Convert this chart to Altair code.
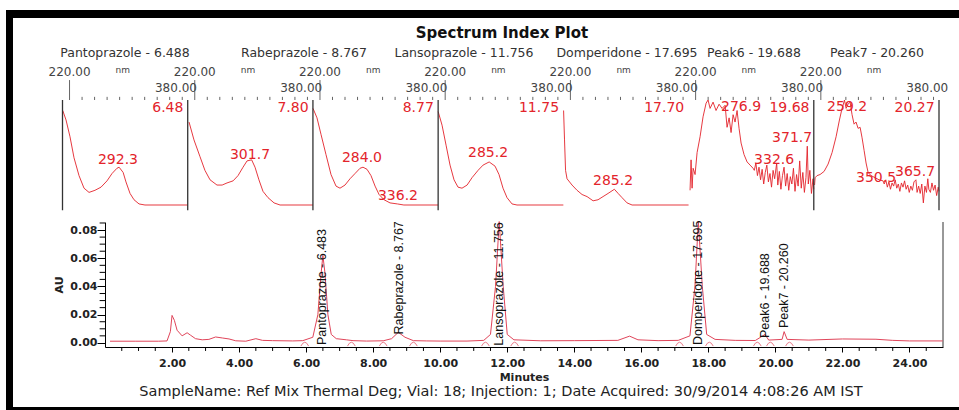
import altair as alt
import pandas as pd
import numpy as np

RED = "#e3242b"
TRACE = "#e0455a"
FONT = "DejaVu Sans"

# ---------------- chromatogram: time (min) vs absorbance (AU) ----------------
chrom_t = [0.15, 0.9, 1.6, 1.85, 1.95, 2.0, 2.07, 2.15, 2.3, 2.45, 2.55, 2.7, 2.9, 3.1,
           3.3, 3.5, 3.7, 3.9, 4.2, 4.5, 4.7, 5.0, 5.6, 5.9, 6.2, 6.35, 6.45, 6.5, 6.56,
           6.65, 6.75, 6.9, 7.2, 7.4, 7.8, 8.3, 8.55, 8.75, 8.95, 9.2, 9.6, 10.0, 10.8,
           11.3, 11.5, 11.65, 11.76, 11.88, 12.0, 12.2, 13.0, 14.0, 15.3, 15.65, 15.9,
           16.5, 17.1, 17.45, 17.6, 17.7, 17.82, 17.95, 18.2, 18.8, 19.4, 19.69, 19.8,
           20.2, 20.26, 20.35, 21.0, 22.0, 23.0, 23.5, 24.0, 24.99]
chrom_au = [0.0012, 0.0012, 0.0012, 0.0014, 0.008, 0.0195, 0.016, 0.009, 0.005, 0.0072,
            0.0055, 0.003, 0.0022, 0.0025, 0.0042, 0.0035, 0.0028, 0.0015, 0.0012, 0.003,
            0.0018, 0.0016, 0.0014, 0.0016, 0.004, 0.02, 0.05, 0.062, 0.05, 0.02, 0.006,
            0.003, 0.0022, 0.0016, 0.0013, 0.0015, 0.003, 0.0075, 0.004, 0.0016, 0.0014,
            0.0013, 0.0013, 0.0018, 0.006, 0.04, 0.086, 0.04, 0.006, 0.0022, 0.0015,
            0.0016, 0.0018, 0.0048, 0.0022, 0.0016, 0.0018, 0.005, 0.04, 0.086, 0.04,
            0.006, 0.0025, 0.0018, 0.0017, 0.006, 0.002, 0.0025, 0.008, 0.0025, 0.002,
            0.0028, 0.0026, 0.0018, 0.0014, 0.0014]

# named peaks
peak_names = ["Pantoprazole", "Rabeprazole", "Lansoprazole", "Domperidone", "Peak6", "Peak7"]
peak_rt_text = ["6.483", "8.767", "11.756", "17.695", "19.688", "20.260"]
peak_rt = [6.483, 8.767, 11.756, 17.695, 19.688, 20.260]
peak_label_au = [-0.0015, 0.006, -0.002, -0.0015, 0.0035, 0.0105]

# integration start / end marks (min)
integ_t = [5.96, 7.35, 8.3, 9.2, 11.35, 12.22, 17.14, 18.03, 19.46, 19.85, 20.42]

# header row of the spectrum index plot
header_text = ["Pantoprazole - 6.488", "Rabeprazole - 8.767", "Lansoprazole - 11.756",
               "Domperidone - 17.695", "Peak6 - 19.688", "Peak7 - 20.260"]

# ---------------- UV spectra, one panel per retention time ----------------
panel_rt = ["6.48", "7.80", "8.77", "11.75", "17.70", "19.68", "20.27"]

spec_nm = [
    [220.3, 224.5, 229.6, 234.7, 241.1, 247.5, 253.9, 261.5, 269.2, 276.9, 283.3, 289.6,
     292.3, 297.5, 301.1, 306.3, 311.4, 317.8, 325.4, 380],
    [221.7, 228, 235.7, 242, 248.5, 257.4, 264, 270.2, 278, 284.3, 290.7, 295.8, 301.7,
     306, 311, 316.2, 322.6, 330.3, 338, 380],
    [220.1, 225.2, 230.4, 236.7, 243.1, 249.5, 254.6, 261, 267.4, 273.8, 280.2, 284.0,
     289.1, 294.2, 299.4, 304.5, 310.9, 318.5, 328, 336.2, 380],
    [220, 225, 230.1, 235.2, 240.3, 245.4, 250.5, 257, 263.3, 271, 277.4, 285.2, 292.7,
     297.8, 302.9, 308, 314.4, 320.8, 380],
    [220.3, 221.5, 222.8, 224.7, 231.1, 237.5, 243.9, 250.3, 258, 264.3, 270.7, 277.1,
     285.2, 290, 295, 301.4, 307.8, 380],
    [221.9, 223.2, 224.5, 225.8, 228.3, 230.9, 234.7, 238.5, 242.4, 244.9, 247.5, 251.3,
     255.1, 259, 262.8, 266.7, 269.2, 271.8, 274.3, 276.9, 279.4, 282, 284.5, 287.1,
     290.9, 294.8, 298.6, 302.4,
     304, 306, 308, 310, 312, 314, 316, 318, 320, 322, 324, 326, 328, 330, 332.6, 334,
     336, 338, 340, 342, 344, 346, 348, 350, 352, 354, 356, 358, 360, 362, 364, 366,
     368, 370, 371.7, 373, 375, 377, 379, 380],
    [221.0, 221.7, 224.2, 228.0, 233.2, 238.3, 243.4, 248.5, 252.5, 255.5, 257.4, 259.2,
     261.3, 263.8, 266.4, 268.9, 271.5, 274.0, 276.6, 279.2, 281.7, 284.3, 286.8, 289.4,
     293.2, 298.3, 303.4, 308.5,
     310, 312, 314, 316, 318, 320, 322, 324, 326, 328, 330, 332, 334, 336, 338, 340, 342,
     344, 346, 348, 350.5, 352, 354, 356, 358, 360, 362, 364, 365.7, 367, 369, 371, 373,
     375, 377, 379, 380],
]
spec_rel = [
    [0.90, 0.81, 0.65, 0.45, 0.28, 0.16, 0.12, 0.14, 0.17, 0.23, 0.30, 0.35, 0.36, 0.31,
     0.22, 0.11, 0.05, 0.01, 0.0, 0.0],
    [0.79, 0.62, 0.46, 0.33, 0.24, 0.19, 0.19, 0.21, 0.23, 0.28, 0.36, 0.42, 0.43, 0.36,
     0.24, 0.13, 0.07, 0.02, 0.0, 0.0],
    [0.92, 0.83, 0.67, 0.48, 0.29, 0.18, 0.16, 0.19, 0.25, 0.30, 0.35, 0.36, 0.34, 0.28,
     0.18, 0.10, 0.05, 0.02, 0.01, 0.0, 0.0],
    [0.89, 0.76, 0.57, 0.38, 0.24, 0.17, 0.16, 0.19, 0.26, 0.33, 0.38, 0.41, 0.37, 0.29,
     0.16, 0.07, 0.01, 0.0, 0.0],
    [0.90, 0.62, 0.33, 0.25, 0.19, 0.14, 0.10, 0.08, 0.04, 0.05, 0.08, 0.11, 0.15, 0.11,
     0.07, 0.02, 0.0, 0.0],
    [0.14, 0.43, 0.16, 0.35, 0.29, 0.50, 0.65, 0.84, 0.97, 1.0, 0.92, 0.98, 0.90, 0.96,
     0.92, 0.95, 0.74, 0.83, 0.69, 0.86, 0.79, 0.90, 0.73, 0.59, 0.48, 0.41, 0.38, 0.35,
     0.33, 0.40, 0.28, 0.36, 0.24, 0.34, 0.20, 0.31, 0.38, 0.22, 0.30, 0.17, 0.33, 0.25,
     0.40, 0.19, 0.32, 0.15, 0.28, 0.36, 0.18, 0.30, 0.14, 0.27, 0.20, 0.35, 0.13, 0.29,
     0.18, 0.42, 0.16, 0.31, 0.12, 0.26, 0.56, 0.20, 0.33, 0.11, 0.25, 0.15],
    [0.19, 0.26, 0.28, 0.29, 0.32, 0.39, 0.50, 0.65, 0.80, 0.90, 0.95, 1.0, 0.92, 0.96,
     0.98, 0.86, 0.77, 0.79, 0.73, 0.74, 0.64, 0.52, 0.40, 0.31, 0.28, 0.26, 0.24, 0.23,
     0.20, 0.24, 0.17, 0.22, 0.15, 0.21, 0.18, 0.24, 0.16, 0.20, 0.13, 0.21, 0.17, 0.23,
     0.15, 0.19, 0.12, 0.18, 0.14, 0.22, 0.24, 0.12, 0.18, 0.11, 0.20, 0.02, 0.18, 0.12,
     0.25, 0.15, 0.12, 0.21, 0.14, 0.19, 0.09, 0.17, 0.13],
]

# labelled wavelengths: panel, wavelength, label anchor (nm, relative absorbance)
ann_panel = [0, 1, 2, 2, 3, 4, 5, 5, 5, 6, 6, 6]
ann_nm = [292.3, 301.7, 284.0, 336.2, 285.2, 285.2, 276.9, 371.7, 332.6, 259.2, 350.5, 365.7]
ann_at_nm = [290.9, 299.6, 282.7, 328.7, 283.8, 283.5, 287.1, 352.3, 329.3, 262.6, 299.6, 349.4]
ann_at_rel = [0.43, 0.48, 0.45, 0.09, 0.50, 0.23, 0.93, 0.64, 0.43, 0.93, 0.26, 0.31]

# ---------------- tables ----------------
NM_MIN, NM_MAX = 220.0, 380.0
SPAN = NM_MAX - NM_MIN
N_PANEL = len(panel_rt)

spec_rows = []
for p, (nms, rels) in enumerate(zip(spec_nm, spec_rel)):
    for k, (w, r) in enumerate(zip(nms, rels)):
        spec_rows.append({"panel": p, "k": k, "u": p * SPAN + w - NM_MIN, "rel": r})
spec_df = pd.DataFrame(spec_rows)

bound_df = pd.DataFrame({"u": [i * SPAN for i in (0, 1, 2, 3, 6, 7)], "rel": -0.05, "rel2": 1.0})

rt_df = pd.DataFrame({"u": [(i + 1) * SPAN - 5.5 for i in range(N_PANEL)],
                      "rel": 0.925, "label": panel_rt})

ann_df = pd.DataFrame({"u": [p * SPAN + a - NM_MIN for p, a in zip(ann_panel, ann_at_nm)],
                       "rel": ann_at_rel, "label": [f"{v:.1f}" for v in ann_nm]})

# wavelength scale drawn above each panel
small_ticks, big_ticks = [], []
for i in range(N_PANEL):
    start = i * SPAN + 9
    big_ticks.append(start)
    small_ticks += [start + 16 * k for k in range(1, 10) if start + 16 * k < N_PANEL * SPAN]
tick_df = pd.concat([
    pd.DataFrame({"u": small_ticks, "rel": 1.0, "rel2": 1.03}),
    pd.DataFrame({"u": big_ticks, "rel": 1.0, "rel2": 1.19}),
])
lo_df = pd.DataFrame({"u": [i * SPAN + 9 for i in range(N_PANEL)], "rel": 1.267,
                      "label": f"{NM_MIN:.2f}"})
hi_df = pd.DataFrame({"u": [(i + 1) * SPAN - 15 for i in range(N_PANEL)], "rel": 1.114,
                      "label": f"{NM_MAX:.2f}"})
nm_df = pd.DataFrame({"u": [i * SPAN + 77 for i in range(N_PANEL)], "rel": 1.29, "label": "nm"})

chrom_df = pd.DataFrame({"t": chrom_t, "au": chrom_au})
plab_df = pd.DataFrame({"t": peak_rt, "au": peak_label_au,
                        "label": [f"{n} - {r}" for n, r in zip(peak_names, peak_rt_text)]})
integ_df = pd.DataFrame({"t": integ_t, "au": -0.0006})

AU_LO, AU_HI = -0.0029, 0.0857
xminor = [v for v in np.arange(0.5, 25.0, 0.5) if abs(v / 2 - round(v / 2)) > 1e-9]
xminor_df = pd.DataFrame({"t": xminor, "au": AU_LO, "au2": AU_LO - 0.0028})
yminor = [round(v, 3) for v in np.arange(0.005, 0.0851, 0.005) if abs(v / 0.02 - round(v / 0.02)) > 1e-6]
yminor_df = pd.DataFrame({"t": -0.16, "t2": 0.0, "au": yminor})
edge_df = pd.DataFrame({"t": [25.0], "au": [AU_LO], "au2": [AU_HI]})

# ---------------- spectra block ----------------
sx = alt.X("u:Q", scale=alt.Scale(domain=[0, N_PANEL * SPAN], range=[62.5, 939], nice=False, zero=False), axis=None)
sy = alt.Y("rel:Q", scale=alt.Scale(domain=[0, 1], range=[205, 100], nice=False, zero=False), axis=None)

spectra = alt.layer(
    alt.Chart(spec_df).mark_line(color=RED, strokeWidth=1, opacity=0.9).encode(
        x=sx, y=sy, detail="panel:N", order="k:Q"),
    alt.Chart(bound_df).mark_rule(color="#333", strokeWidth=1.3).encode(x=sx, y=sy, y2="rel2:Q"),
    alt.Chart(tick_df).mark_rule(color="#666", strokeWidth=1).encode(x=sx, y=sy, y2="rel2:Q"),
    alt.Chart(rt_df).mark_text(font=FONT, fontSize=14, color=RED, align="right", baseline="middle").encode(
        x=sx, y=sy, text="label:N"),
    alt.Chart(ann_df).mark_text(font=FONT, fontSize=14, color=RED, align="center", baseline="middle").encode(
        x=sx, y=sy, text="label:N"),
    alt.Chart(lo_df).mark_text(font=FONT, fontSize=12, color="#444", baseline="middle").encode(
        x=sx, y=sy, text="label:N"),
    alt.Chart(hi_df).mark_text(font=FONT, fontSize=12, color="#444", baseline="middle").encode(
        x=sx, y=sy, text="label:N"),
    alt.Chart(nm_df).mark_text(font=FONT, fontSize=9, color="#444", baseline="middle").encode(
        x=sx, y=sy, text="label:N"),
)

# ---------------- chromatogram block ----------------
x_axis = alt.Axis(orient="bottom", offset=-63, values=list(range(2, 25, 2)), format=".2f",
                  title="Minutes", grid=False, domainColor="black", tickColor="black",
                  tickSize=5, labelFont=FONT, labelFontSize=11, labelFontWeight="bold",
                  labelColor="#222", labelPadding=5, labelFlush=False, labelOverlap=False,
                  titleFont=FONT, titleFontSize=11, titleFontWeight="bold", titleColor="#222",
                  titlePadding=3)
y_axis = alt.Axis(orient="left", offset=-105, values=[0, 0.02, 0.04, 0.06, 0.08], format=".2f",
                  title="AU", grid=False, domainColor="black", tickColor="black", tickSize=8,
                  labelFont=FONT, labelFontSize=11, labelFontWeight="bold", labelColor="#222",
                  labelPadding=0, labelFlush=False, labelOverlap=False,
                  titleFont=FONT, titleFontSize=11, titleFontWeight="bold", titleColor="#222",
                  titlePadding=5)
cx = alt.X("t:Q", scale=alt.Scale(domain=[0, 25], range=[105, 943], nice=False, zero=False), axis=x_axis)
cy = alt.Y("au:Q", scale=alt.Scale(domain=[AU_LO, AU_HI], range=[347, 222], nice=False, zero=False), axis=y_axis)

arc = "M -1 0.6 Q 0 -1.4 1 0.6"
chrom = alt.layer(
    alt.Chart(xminor_df).mark_rule(color="black", strokeWidth=1).encode(x=cx, y=cy, y2="au2:Q"),
    alt.Chart(yminor_df).mark_rule(color="black", strokeWidth=1).encode(x=cx, x2="t2:Q", y=cy),
    alt.Chart(edge_df).mark_rule(color="#333", strokeWidth=1).encode(x=cx, y=cy, y2="au2:Q"),
    alt.Chart(chrom_df).mark_line(color=TRACE, strokeWidth=1).encode(x=cx, y=cy, order="t:Q"),
    alt.Chart(integ_df).mark_point(shape=arc, filled=False, size=60, color=TRACE, strokeWidth=1).encode(x=cx, y=cy),
    alt.Chart(plab_df).mark_text(font="Liberation Sans", fontSize=12.5, color="#111", angle=270,
                                 align="left", baseline="middle").encode(x=cx, y=cy, text="label:N"),
)

# ---------------- page furniture (pixel layout) ----------------
frame_df = pd.DataFrame({"x0": [6, 6, 6], "x1": [959, 13, 959], "y0": [10, 10, 407], "y1": [18, 410, 410]})
frame = alt.Chart(frame_df).mark_rect(color="black").encode(
    x=alt.X("x0:Q", scale=None), x2="x1:Q", y=alt.Y("y0:Q", scale=None), y2="y1:Q")

head_df = pd.DataFrame({"px": [125, 304, 464, 627, 754, 877], "py": 53, "label": header_text})
headers = alt.Chart(head_df).mark_text(font=FONT, fontSize=12.5, color="#333", baseline="middle").encode(
    x=alt.X("px:Q", scale=None), y=alt.Y("py:Q", scale=None), text="label:N")

title = alt.Chart(pd.DataFrame({"px": [502], "py": [33], "label": ["Spectrum Index Plot"]})).mark_text(
    font=FONT, fontSize=15, fontWeight="bold", color="#111", baseline="middle").encode(
    x=alt.X("px:Q", scale=None), y=alt.Y("py:Q", scale=None), text="label:N")

footer_text = "SampleName: Ref Mix Thermal Deg; Vial: 18; Injection: 1; Date Acquired: 30/9/2014 4:08:26 AM IST"
footer = alt.Chart(pd.DataFrame({"px": [501], "py": [392], "label": [footer_text]})).mark_text(
    font=FONT, fontSize=14.5, color="#222", baseline="middle").encode(
    x=alt.X("px:Q", scale=None), y=alt.Y("py:Q", scale=None), text="label:N")

chart = alt.layer(frame, title, headers, footer, spectra, chrom).resolve_scale(
    x="independent", y="independent"
).properties(
    width=959, height=410, padding=0, autosize=alt.AutoSizeParams(type="none"), background="white"
).configure_view(stroke=None)

chart.save("out.html", embed_options={"renderer": "svg", "actions": False})
